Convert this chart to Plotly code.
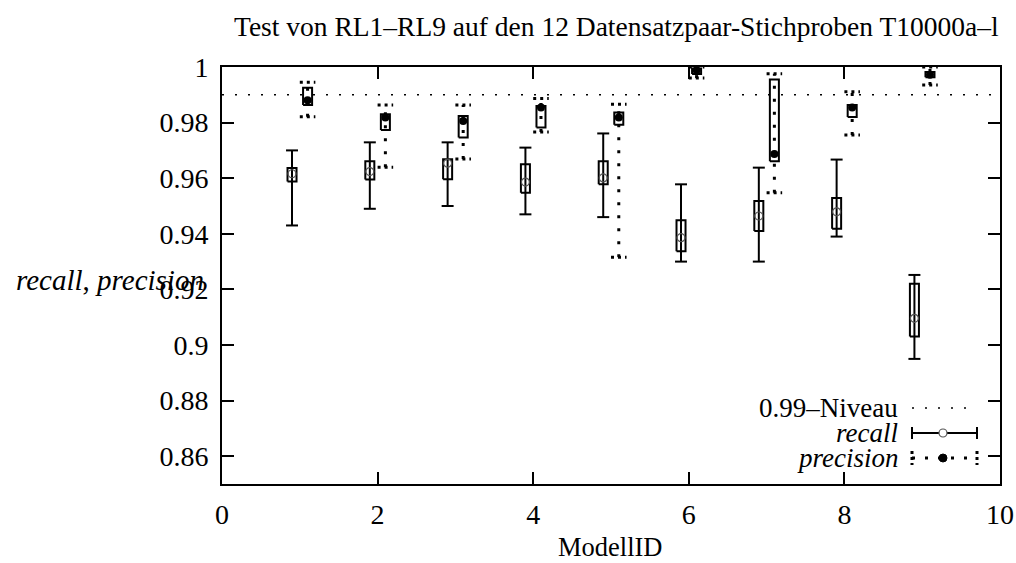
import plotly.graph_objects as go

# ---------------- data ----------------
model_ids = [1, 2, 3, 4, 5, 6, 7, 8, 9]

recall_min = [0.943, 0.949, 0.950, 0.947, 0.946, 0.930, 0.930, 0.939, 0.895]
recall_q1 = [0.9588, 0.9595, 0.9596, 0.9548, 0.9578, 0.9337, 0.9410, 0.9418, 0.9031]
recall_med = [0.9616, 0.9624, 0.9654, 0.9586, 0.9601, 0.9386, 0.9464, 0.9479, 0.9096]
recall_q3 = [0.9637, 0.9661, 0.9668, 0.9650, 0.9661, 0.9449, 0.9518, 0.9529, 0.9220]
recall_max = [0.9700, 0.9729, 0.9729, 0.9710, 0.9761, 0.9578, 0.9638, 0.9667, 0.9252]

precision_min = [0.9821, 0.9639, 0.9669, 0.9766, 0.9316, 0.9960, 0.9548, 0.9755, 0.9935]
precision_q1 = [0.9863, 0.9773, 0.9746, 0.9782, 0.9792, 0.9975, 0.9661, 0.9820, 0.9963]
precision_med = [0.9880, 0.9818, 0.9806, 0.9854, 0.9818, 0.9988, 0.9687, 0.9854, 0.9972]
precision_q3 = [0.9925, 0.9830, 0.9824, 0.9860, 0.9836, 0.9995, 0.9955, 0.9863, 0.9982]
precision_max = [0.9945, 0.9863, 0.9863, 0.9887, 0.9866, 1.0000, 0.9976, 0.9911, 1.0000]

level = 0.99
x_ticks = [0, 2, 4, 6, 8, 10]
y_ticks = [0.86, 0.88, 0.90, 0.92, 0.94, 0.96, 0.98, 1.0]
y_tick_labels = ["0.86", "0.88", "0.9", "0.92", "0.94", "0.96", "0.98", "1"]

title_text = "Test von RL1–RL9 auf den 12 Datensatzpaar-Stichproben T10000a–l"
x_title = "ModellID"
y_title = "<i>recall</i>, <i>precision</i>"
legend_labels = ["0.99–Niveau", "<i>recall</i>", "<i>precision</i>"]

# ---------------- styling constants ----------------
OFF = 0.1        # horizontal offset of the two series
BOX_HW = 0.058   # box half width
CAP_R = 0.077    # recall cap half width
CAP_P = 0.10     # precision cap half width
FONT = "Liberation Serif"
DOT = "3px,10px"
DOT_CAP = "3px,4px"


def seg_lines(xs, lo, hi, cap):
    vx, vy, cx, cy = [], [], [], []
    for x, a, b in zip(xs, lo, hi):
        vx += [x, x, None]
        vy += [a, b, None]
        cx += [x - cap, x + cap, None, x - cap, x + cap, None]
        cy += [a, a, None, b, b, None]
    return vx, vy, cx, cy


def boxes(xs, q1, q3, hw):
    bx, by = [], []
    for x, a, b in zip(xs, q1, q3):
        bx += [x - hw, x + hw, x + hw, x - hw, x - hw, None]
        by += [a, a, b, b, a, None]
    return bx, by


xr = [m - OFF for m in model_ids]
xp = [m + OFF for m in model_ids]

fig = go.Figure()

# 0.99 level line
fig.add_trace(go.Scatter(x=[0, 10], y=[level, level], mode="lines",
                         line=dict(color="black", width=1.6, dash="2px,11px"),
                         hoverinfo="skip", showlegend=False))

# recall
vx, vy, cx, cy = seg_lines(xr, recall_min, recall_max, CAP_R)
fig.add_trace(go.Scatter(x=vx, y=vy, mode="lines", line=dict(color="black", width=2),
                         hoverinfo="skip", showlegend=False))
fig.add_trace(go.Scatter(x=cx, y=cy, mode="lines", line=dict(color="black", width=2),
                         hoverinfo="skip", showlegend=False))
bx, by = boxes(xr, recall_q1, recall_q3, BOX_HW)
fig.add_trace(go.Scatter(x=bx, y=by, mode="lines", line=dict(color="black", width=2),
                         hoverinfo="skip", showlegend=False))
fig.add_trace(go.Scatter(x=xr, y=recall_med, mode="markers",
                         marker=dict(symbol="circle-open", size=8, color="#555555",
                                     line=dict(width=1.2, color="#555555")),
                         showlegend=False))

# precision
vx, vy, cx, cy = seg_lines(xp, precision_min, precision_max, CAP_P)
fig.add_trace(go.Scatter(x=vx, y=vy, mode="lines",
                         line=dict(color="black", width=3, dash=DOT),
                         hoverinfo="skip", showlegend=False))
fig.add_trace(go.Scatter(x=cx, y=cy, mode="lines",
                         line=dict(color="black", width=3, dash=DOT_CAP),
                         hoverinfo="skip", showlegend=False))
bx, by = boxes(xp, precision_q1, precision_q3, BOX_HW)
fig.add_trace(go.Scatter(x=bx, y=by, mode="lines", line=dict(color="black", width=2),
                         hoverinfo="skip", showlegend=False))
fig.add_trace(go.Scatter(x=xp, y=precision_med, mode="markers",
                         marker=dict(symbol="circle", size=8, color="black"),
                         showlegend=False))

# ---------------- layout ----------------
W, H = 1016, 563
X0, X1, Y0, Y1 = 222, 1000, 67, 484   # plot area in pixels


def px(x):
    return (x - X0) / (X1 - X0)


def py(y):
    return (Y1 - y) / (Y1 - Y0)


axis_common = dict(showline=True, linecolor="black", linewidth=2, mirror="ticks",
                   ticks="inside", ticklen=12, tickwidth=2, tickcolor="black",
                   showgrid=False, zeroline=False, automargin=False,
                   tickfont=dict(family=FONT, size=28, color="black"))

fig.update_layout(
    width=W, height=H, margin=dict(l=X0, r=W - X1, t=Y0, b=H - Y1, autoexpand=False),
    paper_bgcolor="white", plot_bgcolor="white", showlegend=False,
    xaxis=dict(range=[0, 10], tickvals=x_ticks, ticklabelstandoff=4, **axis_common),
    yaxis=dict(range=[0.85, 1.0], tickvals=y_ticks, ticktext=y_tick_labels,
               ticklabelstandoff=6, **axis_common),
)

ann = [
    dict(text=title_text, x=px(616), y=py(27), font=dict(size=27.5)),
    dict(text=x_title, x=px(610), y=py(547), font=dict(size=26.5)),
    dict(text=y_title, x=px(206), y=py(280), xanchor="right", font=dict(size=29)),
]
rows = [408, 433, 458]
for lab, r in zip(legend_labels, rows):
    ann.append(dict(text=lab, x=px(900), y=py(r), xanchor="right", font=dict(size=27)))
for a in ann:
    a.setdefault("xanchor", "center")
    a.update(xref="paper", yref="paper", yanchor="middle", showarrow=False)
    a["font"] = dict(family=FONT, color="black", size=a["font"]["size"])
fig.update_layout(annotations=ann)

s_x0, s_x1, s_mid = px(912), px(977), px(943)
shapes = [
    # level sample
    dict(type="line", x0=s_x0, x1=s_x1, y0=py(rows[0]), y1=py(rows[0]),
         line=dict(color="black", width=1.6, dash="2px,11px")),
    # recall sample
    dict(type="line", x0=s_x0, x1=s_x1, y0=py(rows[1]), y1=py(rows[1]),
         line=dict(color="black", width=2)),
    dict(type="line", x0=s_x0, x1=s_x0, y0=py(rows[1] - 6), y1=py(rows[1] + 6),
         line=dict(color="black", width=2)),
    dict(type="line", x0=s_x1, x1=s_x1, y0=py(rows[1] - 6), y1=py(rows[1] + 6),
         line=dict(color="black", width=2)),
    dict(type="circle", xref="paper", yref="paper", xsizemode="pixel", ysizemode="pixel",
         xanchor=s_mid, yanchor=py(rows[1]), x0=-4, x1=4, y0=-4, y1=4,
         fillcolor="white", line=dict(color="#555555", width=1.2)),
    # precision sample
    dict(type="line", x0=s_x0, x1=s_x1, y0=py(rows[2]), y1=py(rows[2]),
         line=dict(color="black", width=3, dash="3px,10px")),
    dict(type="line", x0=s_x0, x1=s_x0, y0=py(rows[2] - 7), y1=py(rows[2] + 7),
         line=dict(color="black", width=3, dash="3px,3px")),
    dict(type="line", x0=s_x1, x1=s_x1, y0=py(rows[2] - 7), y1=py(rows[2] + 7),
         line=dict(color="black", width=3, dash="3px,3px")),
    dict(type="circle", xref="paper", yref="paper", xsizemode="pixel", ysizemode="pixel",
         xanchor=s_mid, yanchor=py(rows[2]), x0=-4, x1=4, y0=-4, y1=4,
         fillcolor="black", line=dict(color="black", width=1)),
]
for s in shapes:
    s.setdefault("xref", "paper")
    s.setdefault("yref", "paper")
fig.update_layout(shapes=shapes)

fig.write_html("out.html")
